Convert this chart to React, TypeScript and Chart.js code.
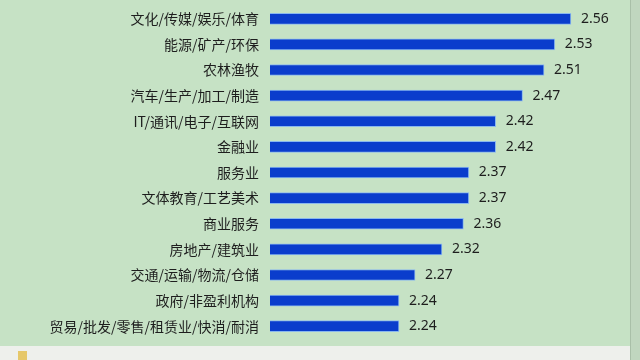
import React, { useEffect, useRef } from "react";
import { Chart, registerables } from "chart.js";

Chart.register(...registerables);

const categories = [
  "文化/传媒/娱乐/体育",
  "能源/矿产/环保",
  "农林渔牧",
  "汽车/生产/加工/制造",
  "IT/通讯/电子/互联网",
  "金融业",
  "服务业",
  "文体教育/工艺美术",
  "商业服务",
  "房地产/建筑业",
  "交通/运输/物流/仓储",
  "政府/非盈利机构",
  "贸易/批发/零售/租赁业/快消/耐消",
];
const values = [2.56, 2.53, 2.51, 2.47, 2.42, 2.42, 2.37, 2.37, 2.36, 2.32, 2.27, 2.24, 2.24];

const valueLabels = {
  id: "valueLabels",
  afterDatasetsDraw(chart: any) {
    const ctx = chart.ctx;
    const meta = chart.getDatasetMeta(0);
    ctx.save();
    ctx.font = '14px "Noto Sans", "DejaVu Sans", sans-serif';
    ctx.fillStyle = "#1e1e1e";
    ctx.textAlign = "left";
    ctx.textBaseline = "middle";
    meta.data.forEach((el: any, i: number) => {
      ctx.fillText(values[i].toFixed(2), el.x + 10, el.y);
    });
    ctx.restore();
  },
};

export default function App() {
  const ref = useRef<HTMLCanvasElement>(null);
  useEffect(() => {
    document.body.style.margin = "0";
    const chart = new Chart(ref.current!, {
      type: "bar",
      data: {
        labels: categories,
        datasets: [
          {
            data: values,
            backgroundColor: "#0a3dcc",
            borderColor: "#8ab8ee",
            borderWidth: 1,
            barThickness: 11,
          },
        ],
      },
      options: {
        indexAxis: "y",
        animation: false,
        responsive: false,
        maintainAspectRatio: false,
        layout: { padding: { top: 6, bottom: 7, left: 0, right: 10 } },
        plugins: {
          legend: { display: false },
          tooltip: { enabled: false },
        },
        scales: {
          x: {
            min: 2.0,
            max: 2.67,
            display: false,
            grid: { display: false },
          },
          y: {
            afterFit(scale: any) {
              scale.width = 270;
              scale.paddingTop = 0;
              scale.paddingBottom = 0;
            },
            grid: { display: false, drawTicks: false },
            border: { display: false },
            ticks: {
              padding: 11,
              color: "#1e1e1e",
              font: { family: '"Noto Sans CJK SC", "Noto Sans", sans-serif', size: 14 },
              autoSkip: false,
            },
          },
        },
      },
      plugins: [valueLabels],
    });
    return () => chart.destroy();
  }, []);

  return (
    <div style={{ position: "relative", width: 640, height: 360, overflow: "hidden", background: "#eef0ec" }}>
      <div style={{ position: "absolute", left: 0, top: 0, width: 640, height: 346, background: "#c6e2c5" }}>
        <canvas ref={ref} width={640} height={346} style={{ display: "block" }} />
      </div>
      <div style={{ position: "absolute", left: 630, top: 0, width: 10, height: 360, background: "#c0d6bf" }} />
      <div style={{ position: "absolute", left: 630, top: 0, width: 1, height: 360, background: "#a9bfa8" }} />
      <div style={{ position: "absolute", left: 18, top: 351, width: 9, height: 9, background: "#e6c86a" }} />
    </div>
  );
}
